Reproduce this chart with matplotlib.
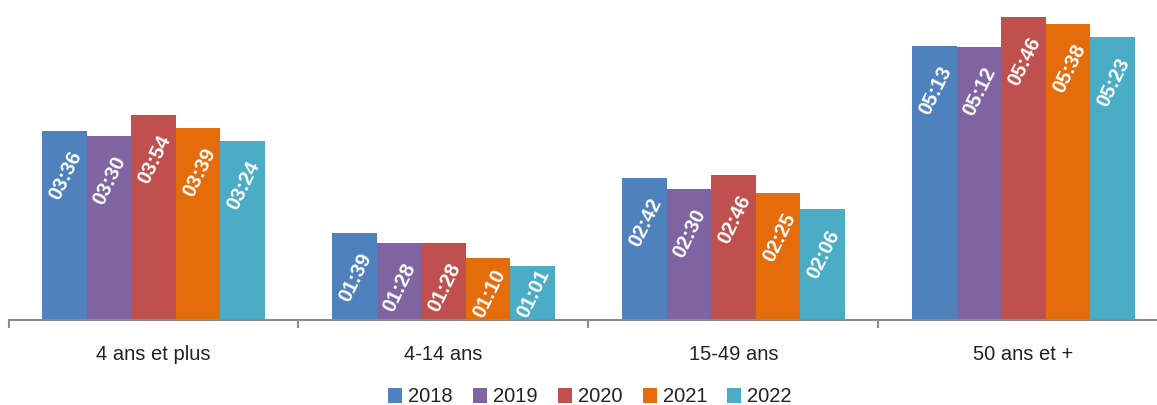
import matplotlib
matplotlib.use("Agg")
import matplotlib.pyplot as plt
import numpy as np

plt.rcParams['font.family'] = ['Liberation Sans', 'DejaVu Sans']

categories = ["4 ans et plus", "4-14 ans", "15-49 ans", "50 ans et +"]
years = ["2018", "2019", "2020", "2021", "2022"]
# daily viewing time, "hh:mm"
labels = {
    "2018": ["03:36", "01:39", "02:42", "05:13"],
    "2019": ["03:30", "01:28", "02:30", "05:12"],
    "2020": ["03:54", "01:28", "02:46", "05:46"],
    "2021": ["03:39", "01:10", "02:25", "05:38"],
    "2022": ["03:24", "01:01", "02:06", "05:23"],
}
colors = ["#4F81BD", "#8064A2", "#C0504D", "#E46C0A", "#4BACC6"]


def to_minutes(s):
    h, m = s.split(":")
    return int(h) * 60 + int(m)


fig = plt.figure(figsize=(11.57, 4.05), dpi=100)
ax = fig.add_axes([8.5 / 1157, 1 - 319.5 / 405, 1160 / 1157, 310 / 405])

x = np.arange(len(categories))
bw = 0.154
for i, (yr, col) in enumerate(zip(years, colors)):
    vals = [to_minutes(s) for s in labels[yr]]
    pos = x + (i - 2) * bw
    ax.bar(pos, vals, width=bw, color=col, label=yr, zorder=2)
    for px, v, s in zip(pos, vals, labels[yr]):
        # label sits near the top of the bar, but stays inside short bars
        ty = max(v - 51, 30)
        ax.text(px + 0.004, ty, s, ha="center", va="center", rotation=64,
                rotation_mode="anchor", color="white",
                fontsize=14.5, fontweight="bold", zorder=3)

ax.set_xlim(-0.5, len(categories) - 0.5)
ax.set_ylim(0, 355)
for side in ["top", "right", "left"]:
    ax.spines[side].set_visible(False)
ax.spines["bottom"].set_color("#8c8c8c")
ax.spines["bottom"].set_linewidth(1.5)
ax.set_yticks([])
ax.set_xticks(np.arange(len(categories) + 1) - 0.5)
ax.set_xticklabels([])
ax.set_xticks(x, minor=True)
ax.set_xticklabels(categories, minor=True, fontsize=14.5, color="#222222")
ax.tick_params(axis="x", which="major", length=6, width=1.5, color="#8c8c8c", direction="out")
ax.tick_params(axis="x", which="minor", length=0, pad=18)

fig.legend(loc="center", bbox_to_anchor=(590 / 1157, 1 - 397 / 405), ncol=5, frameon=False,
           fontsize=14.5, handlelength=0.7, handleheight=0.7, handletextpad=0.3,
           columnspacing=1.0, labelcolor="#222222")

fig.savefig("out.png", dpi=100)
